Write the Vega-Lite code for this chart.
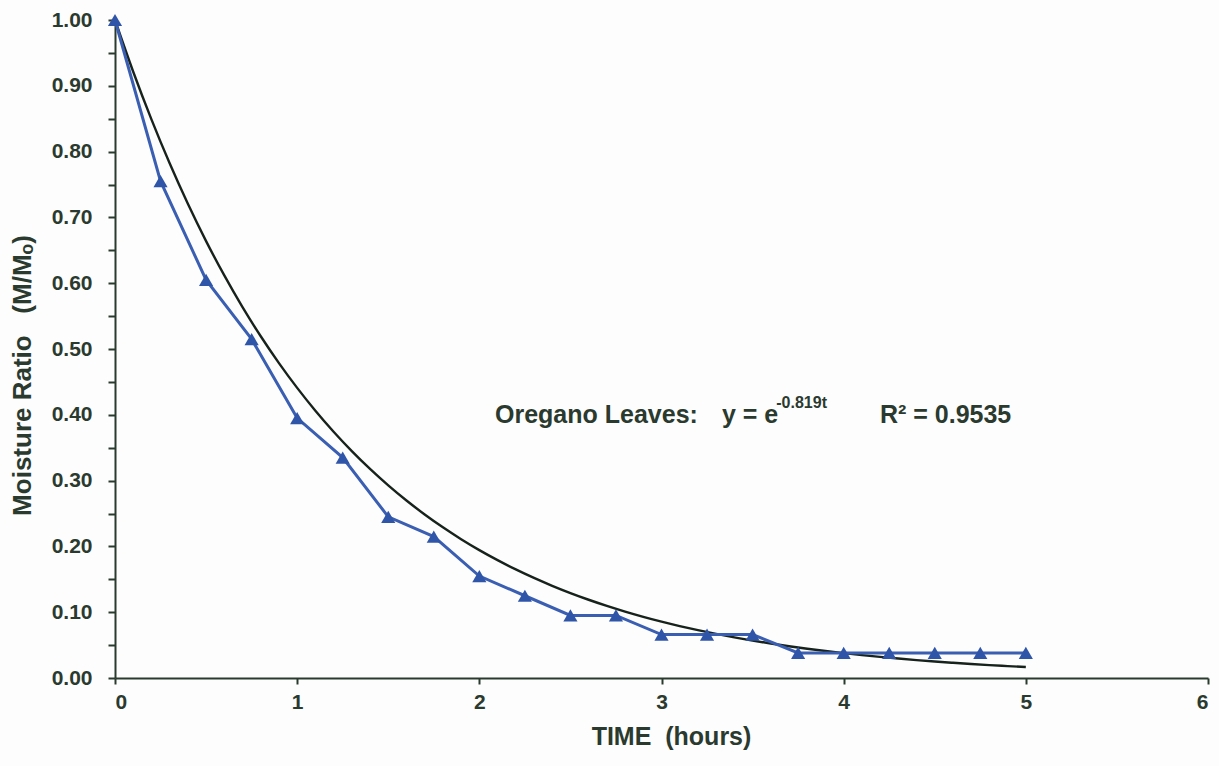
{
  "$schema": "https://vega.github.io/schema/vega-lite/v6.json",
  "autosize": "none",
  "width": 1093,
  "height": 658,
  "padding": {"left": 115, "top": 20, "right": 11, "bottom": 88},
  "background": "#fdfdfd",
  "config": {
    "view": {"stroke": null},
    "font": "Liberation Sans",
    "axis": {
      "domainColor": "#2b3a2f",
      "tickColor": "#2b3a2f",
      "domainWidth": 2,
      "tickWidth": 2,
      "labelColor": "#2b3a2f",
      "titleColor": "#2b3a2f",
      "labelFont": "Liberation Sans",
      "titleFont": "Liberation Sans",
      "labelFontWeight": "bold",
      "titleFontWeight": "bold",
      "labelFontSize": 21,
      "titleFontSize": 25,
      "grid": false
    }
  },
  "datasets": {
    "measured": [
      {"t": 0.0, "mr": 1.0},
      {"t": 0.25, "mr": 0.755},
      {"t": 0.5, "mr": 0.605},
      {"t": 0.75, "mr": 0.515},
      {"t": 1.0, "mr": 0.395},
      {"t": 1.25, "mr": 0.335},
      {"t": 1.5, "mr": 0.245},
      {"t": 1.75, "mr": 0.215},
      {"t": 2.0, "mr": 0.155},
      {"t": 2.25, "mr": 0.125},
      {"t": 2.5, "mr": 0.095},
      {"t": 2.75, "mr": 0.095},
      {"t": 3.0, "mr": 0.066},
      {"t": 3.25, "mr": 0.066},
      {"t": 3.5, "mr": 0.066},
      {"t": 3.75, "mr": 0.038},
      {"t": 4.0, "mr": 0.038},
      {"t": 4.25, "mr": 0.038},
      {"t": 4.5, "mr": 0.038},
      {"t": 4.75, "mr": 0.038},
      {"t": 5.0, "mr": 0.038}
    ],
    "model": [
      {"t": 0.0, "mr": 1.0},
      {"t": 0.1, "mr": 0.92137},
      {"t": 0.2, "mr": 0.84893},
      {"t": 0.3, "mr": 0.78216},
      {"t": 0.4, "mr": 0.72067},
      {"t": 0.5, "mr": 0.664},
      {"t": 0.6, "mr": 0.61178},
      {"t": 0.7, "mr": 0.56367},
      {"t": 0.8, "mr": 0.51935},
      {"t": 0.9, "mr": 0.47851},
      {"t": 1.0, "mr": 0.44089},
      {"t": 1.1, "mr": 0.40622},
      {"t": 1.2, "mr": 0.37428},
      {"t": 1.3, "mr": 0.34485},
      {"t": 1.4, "mr": 0.31773},
      {"t": 1.5, "mr": 0.29275},
      {"t": 1.6, "mr": 0.26973},
      {"t": 1.7, "mr": 0.24852},
      {"t": 1.8, "mr": 0.22898},
      {"t": 1.9, "mr": 0.21097},
      {"t": 2.0, "mr": 0.19438},
      {"t": 2.1, "mr": 0.1791},
      {"t": 2.2, "mr": 0.16501},
      {"t": 2.3, "mr": 0.15204},
      {"t": 2.4, "mr": 0.14008},
      {"t": 2.5, "mr": 0.12906},
      {"t": 2.6, "mr": 0.11892},
      {"t": 2.7, "mr": 0.10957},
      {"t": 2.8, "mr": 0.10095},
      {"t": 2.9, "mr": 0.09301},
      {"t": 3.0, "mr": 0.0857},
      {"t": 3.1, "mr": 0.07896},
      {"t": 3.2, "mr": 0.07275},
      {"t": 3.3, "mr": 0.06703},
      {"t": 3.4, "mr": 0.06176},
      {"t": 3.5, "mr": 0.05689},
      {"t": 3.6, "mr": 0.05242},
      {"t": 3.7, "mr": 0.0483},
      {"t": 3.8, "mr": 0.0445},
      {"t": 3.9, "mr": 0.041},
      {"t": 4.0, "mr": 0.03778},
      {"t": 4.1, "mr": 0.03481},
      {"t": 4.2, "mr": 0.03207},
      {"t": 4.3, "mr": 0.02955},
      {"t": 4.4, "mr": 0.02723},
      {"t": 4.5, "mr": 0.02508},
      {"t": 4.6, "mr": 0.02311},
      {"t": 4.7, "mr": 0.02129},
      {"t": 4.8, "mr": 0.01962},
      {"t": 4.9, "mr": 0.01808},
      {"t": 5.0, "mr": 0.01665}
    ],
    "notes": [
      {"t": 2.086, "mr": 0.3875, "text": "Oregano Leaves:", "part": "main"},
      {"t": 3.332, "mr": 0.3875, "text": "y = e", "part": "main"},
      {"t": 3.63, "mr": 0.3875, "text": "-0.819t", "part": "sup"},
      {"t": 4.199, "mr": 0.3875, "text": "R² = 0.9535", "part": "main"}
    ]
  },
  "encoding": {
    "x": {
      "field": "t",
      "type": "quantitative",
      "scale": {"domain": [0, 6], "nice": false, "zero": false},
      "axis": {
        "title": "TIME\u00a0\u00a0(hours)",
        "values": [0, 1, 2, 3, 4, 5, 6],
        "format": "d",
        "tickSize": 6,
        "labelPadding": 7,
        "titleX": 556,
        "titleY": 66,
        "titleBaseline": "alphabetic"
      }
    },
    "y": {
      "field": "mr",
      "type": "quantitative",
      "scale": {"domain": [0, 1], "nice": false},
      "axis": {
        "title": "Moisture Ratio\u00a0\u00a0\u00a0(M/Mₒ)",
        "titleFontSize": 26,
        "values": [0, 0.05, 0.1, 0.15, 0.2, 0.25, 0.3, 0.35, 0.4, 0.45, 0.5, 0.55, 0.6, 0.65, 0.7, 0.75, 0.8, 0.85, 0.9, 0.95, 1.0],
        "labelExpr": "round(datum.value * 100) % 10 == 0 ? format(datum.value, '.2f') : ''",
        "tickSize": 7,
        "labelPadding": 16,
        "titleX": -85,
        "titleY": 355,
        "titleBaseline": "alphabetic"
      }
    }
  },
  "layer": [
    {
      "data": {"name": "model"},
      "mark": {"type": "line", "color": "#17221c", "strokeWidth": 2.4, "interpolate": "monotone"}
    },
    {
      "data": {"name": "measured"},
      "mark": {"type": "line", "color": "#3a5fb2", "strokeWidth": 3}
    },
    {
      "data": {"name": "measured"},
      "mark": {"type": "point", "shape": "triangle-up", "filled": true, "color": "#2f55a8", "opacity": 1, "size": 200}
    },
    {
      "data": {"name": "notes"},
      "transform": [{"filter": "datum.part == 'main'"}],
      "mark": {"type": "text", "align": "left", "baseline": "alphabetic", "fontSize": 25, "fontWeight": "bold", "color": "#2b3a2f", "font": "Liberation Sans"},
      "encoding": {"text": {"field": "text"}}
    },
    {
      "data": {"name": "notes"},
      "transform": [{"filter": "datum.part == 'sup'"}],
      "mark": {"type": "text", "align": "left", "baseline": "alphabetic", "dy": -15, "fontSize": 16, "fontWeight": "bold", "color": "#2b3a2f", "font": "Liberation Sans"},
      "encoding": {"text": {"field": "text"}}
    }
  ]
}
